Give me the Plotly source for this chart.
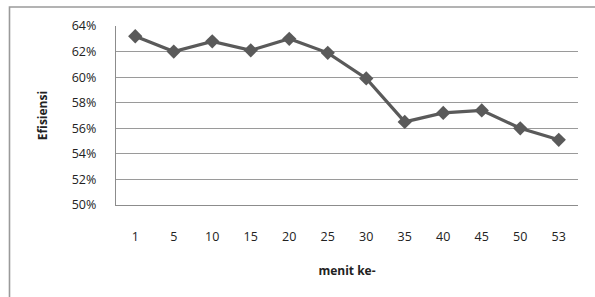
import plotly.graph_objects as go

categories = ["1", "5", "10", "15", "20", "25", "30", "35", "40", "45", "50", "53"]
efisiensi = [0.632, 0.620, 0.628, 0.621, 0.630, 0.619, 0.599, 0.565, 0.572, 0.574, 0.560, 0.551]
y_ticks = [0.50, 0.52, 0.54, 0.56, 0.58, 0.60, 0.62, 0.64]

W, H = 595, 297
L, R, T, B = 116, 17, 26, 92
pw, ph = W - L - R, H - T - B

def px(x):
    return (x - L) / pw

def py(y):
    return 1 - (y - T) / ph

fig = go.Figure()
fig.add_trace(go.Scatter(
    x=categories, y=efisiensi, mode="lines+markers",
    line=dict(color="#5a5a5a", width=3.2),
    marker=dict(symbol="diamond", size=11, color="#5a5a5a"),
    showlegend=False,
))

font = "Open Sans"
fig.update_layout(
    width=W, height=H,
    margin=dict(l=L, r=R, t=T, b=B),
    paper_bgcolor="white", plot_bgcolor="white",
    font=dict(family=font, size=12, color="#222"),
    xaxis=dict(
        type="category", showgrid=False, showline=True, linecolor="#8c8c8c", linewidth=1.3,
        ticks="", ticklabelstandoff=20, tickfont=dict(size=12.5, color="#222"),
        title=dict(text="<b>menit ke-</b>", font=dict(size=12, color="#222"), standoff=22),
        range=[-0.5, 11.5], fixedrange=True,
    ),
    yaxis=dict(
        range=[0.50, 0.64], tickvals=y_ticks, tickformat=".0%",
        showgrid=True, gridcolor="#9a9a9a", gridwidth=1.3,
        showline=True, linecolor="#8c8c8c", linewidth=1.3, zeroline=False,
        ticks="", ticklabelstandoff=16, tickfont=dict(size=12.5, color="#222"),
        title=dict(text="<b>Efisiensi</b>", font=dict(size=12, color="#222"), standoff=21),
    ),
)

# outer chart frame
fig.add_shape(type="rect", xref="paper", yref="paper",
              x0=px(9.5), x1=px(W + 10), y0=py(H + 10), y1=py(7),
              line=dict(color="#9a9a9a", width=1.6), fillcolor="rgba(0,0,0,0)", layer="above")

fig.write_html("out.html", config={"displayModeBar": False},
               post_script="document.body.style.margin='0';document.body.style.overflow='hidden';")
